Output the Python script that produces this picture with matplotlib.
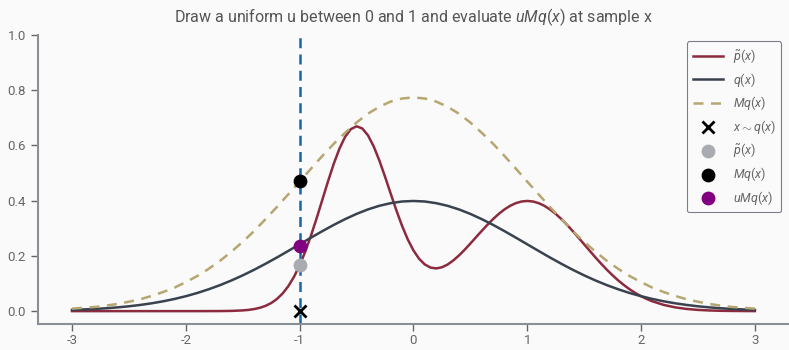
import numpy as np
import matplotlib
matplotlib.use("Agg")
import matplotlib.pyplot as plt

# ---- data ----
# p~(x): finer steps through the two humps
x_p = np.round(np.r_[np.linspace(-3.0, -1.5, 16),
                     np.linspace(-1.45, 2.1, 72),
                     np.linspace(2.2, 3.0, 9)], 2)
p_tilde = [0.0000, 0.0000, 0.0000, 0.0000, 0.0000, 0.0000, 0.0000, 0.0000,
           0.0000, 0.0000, 0.0000, 0.0000, 0.0001, 0.0002, 0.0008, 0.0026,
           # -1.45 .. 2.10
           0.0044, 0.0074, 0.0120, 0.0190, 0.0292, 0.0437, 0.0636, 0.0900,
           0.1239, 0.1660, 0.2161, 0.2737, 0.3371, 0.4039, 0.4708, 0.5337,
           0.5886, 0.6315, 0.6591, 0.6694, 0.6617, 0.6370, 0.5973, 0.5461,
           0.4874, 0.4257, 0.3650, 0.3089, 0.2599, 0.2199, 0.1894, 0.1690,
           0.1577, 0.1546, 0.1587, 0.1687, 0.1834, 0.2016, 0.2223, 0.2446,
           0.2676, 0.2905, 0.3127, 0.3335, 0.3522, 0.3684, 0.3815, 0.3911,
           0.3970, 0.3990, 0.3970, 0.3911, 0.3815, 0.3683, 0.3521, 0.3333,
           0.3123, 0.2897, 0.2661, 0.2420, 0.2179, 0.1942, 0.1714, 0.1497,
           0.1295, 0.1109, 0.0941, 0.0790, 0.0656, 0.0540, 0.0440, 0.0355,
           # 2.2 .. 3.0
           0.0224, 0.0136, 0.0079, 0.0044, 0.0024, 0.0012, 0.0006, 0.0003,
           0.0001]

x_grid = np.round(np.linspace(-3.0, 3.0, 61), 1)

q_vals = [0.0044, 0.0060, 0.0079, 0.0104, 0.0136, 0.0175, 0.0224, 0.0283, 0.0355, 0.0440,
          0.0540, 0.0656, 0.0790, 0.0940, 0.1109, 0.1295, 0.1497, 0.1714, 0.1942, 0.2179,
          0.2420, 0.2661, 0.2897, 0.3123, 0.3332, 0.3521, 0.3683, 0.3814, 0.3910, 0.3970,
          0.3989, 0.3970, 0.3910, 0.3814, 0.3683, 0.3521, 0.3332, 0.3123, 0.2897, 0.2661,
          0.2420, 0.2179, 0.1942, 0.1714, 0.1497, 0.1295, 0.1109, 0.0940, 0.0790, 0.0656,
          0.0540, 0.0440, 0.0355, 0.0283, 0.0224, 0.0175, 0.0136, 0.0104, 0.0079, 0.0060,
          0.0044]

Mq_vals = [0.009, 0.012, 0.015, 0.020, 0.026, 0.034, 0.043, 0.055, 0.069, 0.085,
           0.105, 0.127, 0.153, 0.182, 0.215, 0.251, 0.290, 0.333, 0.377, 0.423,
           0.469, 0.516, 0.562, 0.606, 0.646, 0.683, 0.715, 0.740, 0.759, 0.770,
           0.774, 0.770, 0.759, 0.740, 0.715, 0.683, 0.646, 0.606, 0.562, 0.516,
           0.469, 0.423, 0.377, 0.333, 0.290, 0.251, 0.215, 0.182, 0.153, 0.127,
           0.105, 0.085, 0.069, 0.055, 0.043, 0.034, 0.026, 0.020, 0.015, 0.012,
           0.009]

x_sample = -1.0
p_at_sample = 0.166
Mq_at_sample = 0.470
uMq_at_sample = 0.235

title = "Draw a uniform u between 0 and 1 and evaluate $uMq(x)$ at sample x"

# ---- style ----
BG = "#fafafa"
plt.rcParams["font.family"] = ["Roboto", "DejaVu Sans"]
plt.rcParams["axes.unicode_minus"] = False
plt.rcParams["mathtext.fontset"] = "custom"
plt.rcParams["mathtext.rm"] = "Roboto"
plt.rcParams["mathtext.it"] = "Roboto:italic"

fig = plt.figure(figsize=(7.89, 3.5), dpi=100, facecolor=BG)
ax = fig.add_axes([0.048, 0.074, 0.952, 0.826], facecolor=BG)

ax.plot(x_p, p_tilde, color="#8c2a3e", lw=1.8, label=r"$\tilde{p}(x)$")
ax.plot(x_grid, q_vals, color="#39424e", lw=1.8, label=r"$q(x)$")
ax.plot(x_grid, Mq_vals, color="#b5a672", lw=1.8, ls=(0, (4, 3)), label=r"$Mq(x)$")
ax.axvline(x_sample, color="#1766ab", lw=1.8, ls=(0, (4, 2.5)))

ax.scatter([x_sample], [0], marker="x", color="black", s=75, linewidths=2,
           zorder=5, label=r"$x \sim q(x)$")
ax.scatter([x_sample], [p_at_sample], color="#a8abaf", s=80, zorder=5, label=r"$\tilde{p}(x)$")
ax.scatter([x_sample], [Mq_at_sample], color="black", s=80, zorder=5, label=r"$Mq(x)$")
ax.scatter([x_sample], [uMq_at_sample], color="#800080", s=80, zorder=5, label=r"$uMq(x)$")

ax.set_xlim(-3.3, 3.3)
ax.set_ylim(-0.047, 1.0)
ax.set_xticks([-3, -2, -1, 0, 1, 2, 3])
ax.set_yticks([0.0, 0.2, 0.4, 0.6, 0.8, 1.0])
ax.set_yticklabels(["0.0", "0.2", "0.4", "0.6", "0.8", "1.0"])

for s in ["top", "right"]:
    ax.spines[s].set_visible(False)
for s in ["left", "bottom"]:
    ax.spines[s].set_color("#8a8f96")
    ax.spines[s].set_linewidth(1.5)
ax.tick_params(colors="#666666", labelsize=9.5, length=5, width=1)
ax.tick_params(axis="x", pad=2)

ax.set_title(title, fontsize=11.5, color="#555555", pad=9)

leg = ax.legend(loc="upper right", fontsize=9, frameon=True, facecolor=BG,
                edgecolor="#5a606a", handlelength=2.4, labelspacing=0.45,
                borderpad=0.45, bbox_to_anchor=(0.998, 1.0))
leg.get_frame().set_linewidth(0.8)
for t in leg.get_texts():
    t.set_color("#666666")

fig.savefig("out.png", dpi=100, facecolor=BG)
